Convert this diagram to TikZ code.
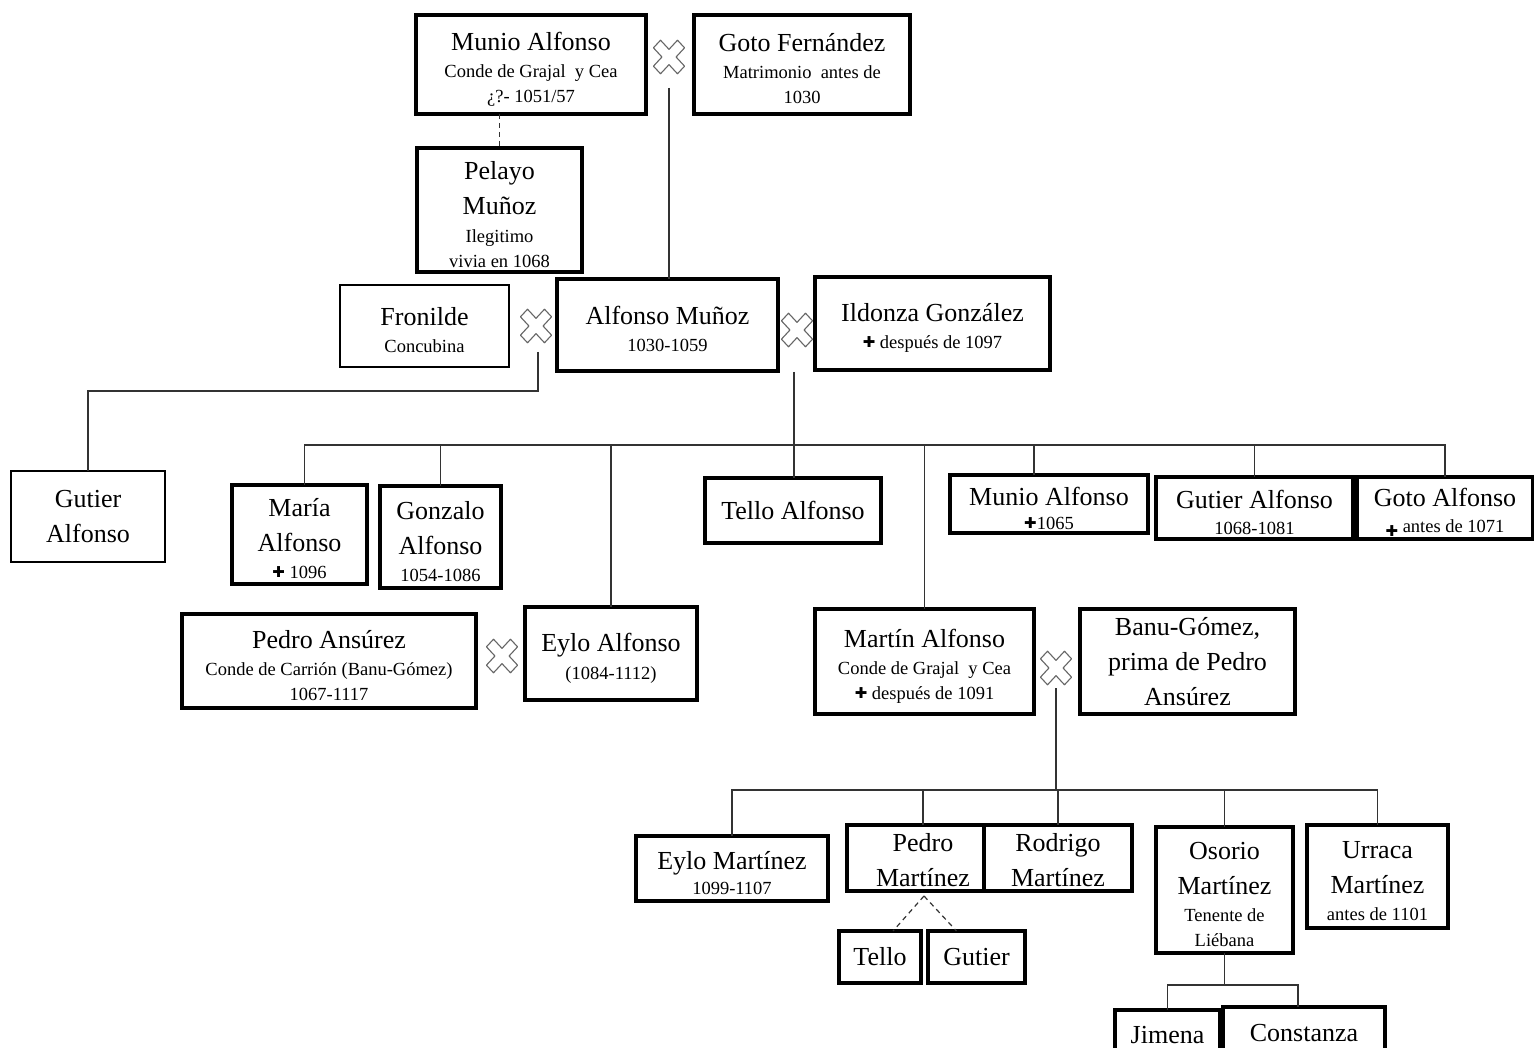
\documentclass[tikz,border=0pt]{standalone}
\usepackage{fontspec}
\setmainfont{Liberation Serif}
\newfontfamily\symfont{DejaVu Sans}
\usetikzlibrary{calc}
\newcommand\nmf{\fontsize{26}{35}\selectfont}
\newcommand\smf{\fontsize{18.5}{25}\selectfont}
\newcommand\dagx{\raisebox{1pt}{\symfont\fontsize{15}{15}\selectfont ✚}}
% a tall first line pushes the text block slightly down in its box
\newcommand\lowtop{\rule{0pt}{27pt}}

\begin{document}
\begin{tikzpicture}[x=1pt,y=-1pt,
  person/.style={draw=black,line width=3.1pt,inner sep=0pt,outer sep=0pt,
    align=center,font=\smf,fill=white},
  thinperson/.style={person,line width=1.5pt},
  conn/.style={draw=black!80,line width=1.2pt},
  dconn/.style={conn,dash pattern=on 5pt off 4pt},
  wedding/.pic={\draw[black!60,line width=1.1pt,line join=round,yscale=1.08,rotate=45]
    (-5,17) -- (5,17) -- (5,5) -- (17,5) -- (17,-5) -- (5,-5) -- (5,-17)
    -- (-5,-17) -- (-5,-5) -- (-17,-5) -- (-17,5) -- (-5,5) -- cycle;}
]
\useasboundingbox (0,0) rectangle (1534,1048);
\clip (0,0) rectangle (1534,1048);
\fill[white] (0,0) rectangle (1534,1048);

% ---- first generation
\node[person,minimum width=230pt,minimum height=99pt] (ma) at (531,64.5)
  {{\nmf\lowtop Munio Alfonso}\\[2pt] Conde de Grajal\ \ y Cea\\ ¿?- 1051/57};
\node[person,minimum width=216pt,minimum height=99pt] (gf) at (802,64.5)
  {{\nmf\lowtop Goto Fernández}\\[2pt] Matrimonio\ \ antes de\\ 1030};
\coordinate (w1) at (669,57);
\coordinate (w1d) at (669,88);

\node[person,minimum width=165pt,minimum height=124pt] (pm) at (499.5,210)
  {{\nmf\lowtop Pelayo}\\[10pt]{\nmf Muñoz}\\[3pt] Ilegitimo\\ vivia en 1068};

% ---- second generation
\node[thinperson,minimum width=169pt,minimum height=82pt] (fr) at (424.5,326)
  {{\nmf\lowtop Fronilde}\\[2pt] Concubina};
\node[person,minimum width=221pt,minimum height=92pt] (am) at (667.5,325)
  {{\nmf\lowtop Alfonso Muñoz}\\[2pt] 1030-1059};
\node[person,minimum width=235pt,minimum height=93pt] (ig) at (932.5,323.5)
  {{\nmf\lowtop Ildonza González}\\[2pt] \dagx\ después de 1097};
\coordinate (w2) at (536,326);
\coordinate (w2d) at (538,352);
\coordinate (j2) at (538,391);
\coordinate (w3) at (797,330);
\coordinate (w3d) at (794,372);
\coordinate (j3) at (794,445);

% ---- children of Alfonso Muñoz
\node[thinperson,minimum width=154pt,minimum height=91pt,font=\nmf] (ga) at (88,516.5)
  {Gutier\\Alfonso};
\node[person,minimum width=135pt,minimum height=99pt] (mr) at (299.5,534.5)
  {{\nmf\lowtop María}\\[10pt]{\nmf Alfonso}\\[2pt] \dagx\ 1096};
\node[person,minimum width=121pt,minimum height=102pt] (gz) at (440.5,537)
  {{\nmf\lowtop Gonzalo}\\[10pt]{\nmf Alfonso}\\[2pt] 1054-1086};
\node[person,minimum width=176pt,minimum height=65pt,font=\nmf] (ta) at (793,510.5)
  {Tello Alfonso};
\node[person,minimum width=198pt,minimum height=58pt] (mu) at (1049,504)
  {{\nmf\lowtop Munio Alfonso}\\[-1pt] \dagx1065};
\node[person,minimum width=197pt,minimum height=62pt] (gu) at (1254.5,508)
  {{\nmf\lowtop Gutier Alfonso}\\[1pt] 1068-1081};
\node[person,minimum width=176pt,minimum height=62pt] (go) at (1445,508)
  {{\nmf\lowtop Goto Alfonso}\\[1pt] \raisebox{-5pt}{\dagx} antes de 1071};

\node[person,minimum width=294pt,minimum height=94pt] (pa) at (329,661)
  {{\nmf\lowtop Pedro Ansúrez}\\[2pt] Conde de Carrión (Banu-Gómez)\\ 1067-1117};
\node[person,minimum width=172pt,minimum height=93pt] (ea) at (611,653.5)
  {{\nmf\lowtop Eylo Alfonso}\\[3pt] (1084-1112)};
\coordinate (w4) at (502,656);

\node[person,minimum width=219pt,minimum height=105pt] (mt) at (924.5,661.5)
  {{\nmf\lowtop Martín Alfonso}\\[2pt] Conde de Grajal\ \ y Cea\\ \dagx\ después de 1091};
\node[person,minimum width=215pt,minimum height=105pt,font=\nmf] (bg) at (1187.5,661.5)
  {Banu-Gómez,\\prima de Pedro\\Ansúrez};
\coordinate (w5) at (1056,668);
\coordinate (w5d) at (1056,688);
\coordinate (j5) at (1056,790);

% ---- children of Martín Alfonso
\node[person,minimum width=192pt,minimum height=65pt] (em) at (732,868.5)
  {{\nmf\lowtop Eylo Martínez}\\[0pt] 1099-1107};
\node[person,minimum width=137pt,minimum height=66pt,font=\nmf] (pd) at (915.5,858)
  {\hspace*{15pt}\rule{0pt}{22pt}Pedro\\\hspace*{15pt}Martínez};
\node[person,minimum width=148pt,minimum height=66pt,font=\nmf] (ro) at (1058,858)
  {\rule{0pt}{22pt}Rodrigo\\Martínez};
\node[person,minimum width=137pt,minimum height=126pt] (os) at (1224.5,890)
  {{\nmf\lowtop Osorio}\\[10pt]{\nmf Martínez}\\[2pt] Tenente de\\ Liébana};
\node[person,minimum width=141pt,minimum height=103pt] (ur) at (1377.5,876.5)
  {{\nmf\lowtop Urraca}\\[10pt]{\nmf Martínez}\\[2pt] antes de 1101};
\node[person,minimum width=82pt,minimum height=52pt,font=\nmf] (te) at (880,957)
  {Tello};
\node[person,minimum width=97pt,minimum height=52pt,font=\nmf] (gt) at (976.5,957)
  {Gutier};
\coordinate (pdx) at (924,896);
\coordinate (j6) at (1224.5,985);
\node[person,minimum width=105pt,minimum height=50pt,font=\nmf] (ji) at (1167.5,1035)
  {Jimena};
\node[person,minimum width=162pt,minimum height=53pt,font=\nmf] (co) at (1304,1033.5)
  {Constanza};

% ---- marriage marks
\pic at (w1) {wedding};
\pic at (w2) {wedding};
\pic at (w3) {wedding};
\pic at (w4) {wedding};
\pic at (w5) {wedding};

% ---- connectors
\draw[dconn] (ma.south -| pm.north) -- (pm.north);
\draw[conn] (w1d) -- (w1d |- am.north);
\draw[conn] (w2d) -- (j2) -| (ga.north);
\draw[conn] (w3d) -- (w3d |- ta.north);
\draw[conn] (j3) -| ($(mr.north)+(5,0)$);
\draw[conn] (j3) -| (gz.north);
\draw[conn] (j3) -| (ea.north);
\draw[conn] (j3) -| (mt.north);
\draw[conn] (j3) -| ($(mu.north)+(-15,0)$);
\draw[conn] (j3) -| (gu.north);
\draw[conn] (j3) -| (go.north);
\draw[conn] (w5d) -- (j5);
\draw[conn] (j5) -| (em.north);
\draw[conn] (j5) -| ($(pd.north)+(7.5,0)$);
\draw[conn] (j5) -| (ro.north);
\draw[conn] (j5) -| (os.north);
\draw[conn] (j5) -| (ur.north);
\draw[dconn] (pdx) -- ($(te.north)+(13,0)$);
\draw[dconn] (pdx) -- ($(gt.north)+(-20,0)$);
\draw[conn] (os.south) -- (j6);
\draw[conn] (j6) -| (ji.north);
\draw[conn] (j6) -| ($(co.north)+(-6,0)$);
\end{tikzpicture}
\end{document}
